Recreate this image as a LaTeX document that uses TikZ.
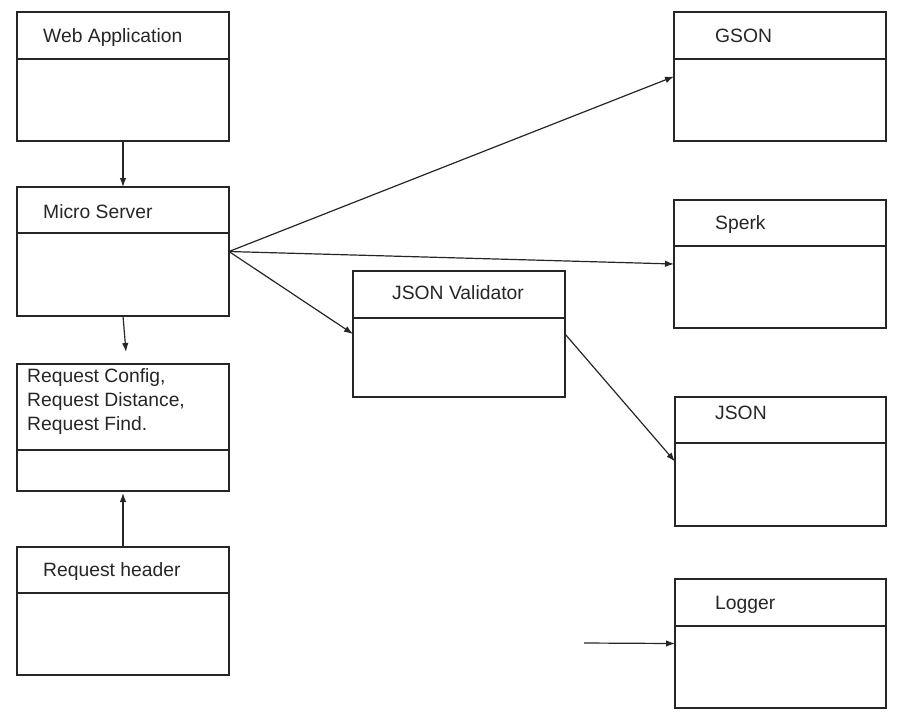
\documentclass[tikz,border=0pt]{standalone}
\usepackage{fontspec}
\setmainfont{Liberation Sans}
\usetikzlibrary{arrows.meta,calc}
\tikzset{
  classbox/.style={draw=black!85, line width=1.1pt, minimum width=212pt, minimum height=129pt,
    anchor=north west, inner sep=0pt, outer sep=0pt},
  classtitle/.style={anchor=base west, inner sep=0pt, text=black!85,
    font=\fontsize{19.3}{24}\selectfont, align=left},
  link/.style={draw=black!85, line width=1.2pt, -{Latex[length=9pt,width=6.5pt]}}
}
\begin{document}
\begin{tikzpicture}[x=1pt,y=-1pt]
    \useasboundingbox (0,0) rectangle (901,721);
    % left column
    \node[classbox] (web) at (17,12) {};
    \node[classbox] (micro) at (17,187) {};
    \node[classbox, minimum height=127pt] (req) at (17,364) {};
    \node[classbox, minimum height=128pt] (header) at (17,547) {};
    % middle
    \node[classbox, minimum height=126pt] (valid) at (353,271) {};
    % right column
    \node[classbox] (gson) at (674,12) {};
    \node[classbox, minimum height=128pt] (sperk) at (674,200) {};
    \node[classbox, minimum width=211pt] (json) at (675,397) {};
    \node[classbox, minimum width=211pt] (logger) at (675,579) {};
    % dividers
    \foreach \b/\d in {web/47, micro/46, req/86, header/46, valid/47, gson/47, sperk/46, json/46, logger/47}
        \draw[draw=black!85, line width=1.1pt] ($(\b.north west)+(0,\d)$) -- ($(\b.north east)+(0,\d)$);
    % titles
    \node[classtitle] (webtitle) at ($(web.north west)+(26,30)$) {Web Application};
    \node[classtitle] (microtitle) at ($(micro.north west)+(26,31)$) {Micro Server};
    \node[classtitle] (reqtitle) at ($(req.north west)+(10,66)$) {Request Config,\\Request Distance,\\Request Find.};
    \node[classtitle] (headertitle) at ($(header.north west)+(26,29)$) {Request header};
    \node[classtitle] (validtitle) at ($(valid.north west)+(39,28)$) {JSON Validator};
    \node[classtitle] (gsontitle) at ($(gson.north west)+(41,30)$) {GSON};
    \node[classtitle] (sperktitle) at ($(sperk.north west)+(41,29)$) {Sperk};
    \node[classtitle] (jsontitle) at ($(json.north west)+(40,22)$) {JSON};
    \node[classtitle] (loggertitle) at ($(logger.north west)+(40,30)$) {Logger};
    % connectors
    \draw[link] (web.south) -- (micro.north);
    \draw[link, shorten >=12pt] (micro.south) -- ([xshift=4pt]req.north);
    \draw[link, shorten >=2pt] (header.north) -- (req.south);
    \draw[link] (micro.east) -- (gson.west);
    \draw[link] (micro.east) -- (sperk.west);
    \draw[link] (micro.east) -- (valid.west);
    \draw[link] (valid.east) -- (json.west);
    \coordinate (logsrc) at (584,643);
    \draw[link] (logsrc) -- (logger.west);
\end{tikzpicture}
\end{document}
